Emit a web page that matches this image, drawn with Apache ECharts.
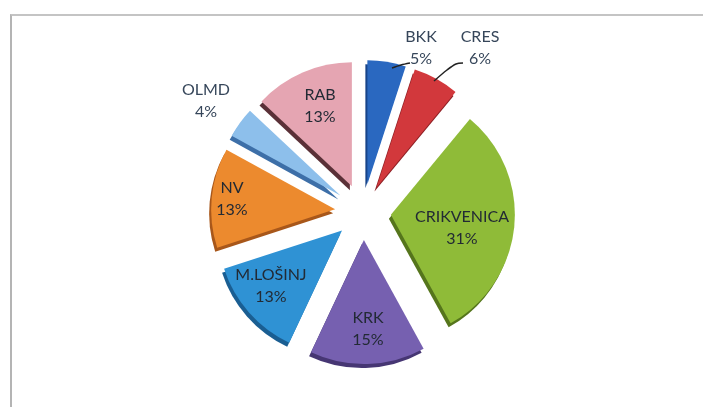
<!DOCTYPE html>
<html>
<head>
<meta charset="utf-8">
<script src="https://cdn.jsdelivr.net/npm/echarts@6/dist/echarts.min.js"></script>
<style>
  html, body { margin: 0; padding: 0; background: #fff; }
  #frame { position: absolute; left: 10px; top: 14px; width: 693px; height: 393px;
           border-left: 2px solid #b4b4b4; border-top: 2px solid #c4c4c4; }
  #chart { position: absolute; left: 0; top: 0; width: 703px; height: 407px; }
</style>
</head>
<body>
<div id="frame"></div>
<div id="chart"></div>
<script>
// slice names and shares (%), clockwise from 12 o'clock
const names = ['BKK', 'CRES', 'CRIKVENICA', 'KRK', 'M.LOŠINJ', 'NV', 'OLMD', 'RAB']
const shares = [5, 6, 31, 15, 13, 13, 4, 13]

const colors = ['#2a68c0', '#d2383c', '#8fbb38', '#7660b0', '#2f92d4', '#ec8a2e', '#8dbfeb', '#e5a5b2']
const edges = ['#17448a', '#8e1f24', '#55751c', '#463673', '#1a5e92', '#a8571a', '#3d6fa8', '#5a3037']
const outside = ['BKK', 'CRES', 'OLMD']

// label anchor spots (centre of the two-line label)
const labelSpots = [[421, 48], [480, 48], [462, 228], [368, 329], [271, 286], [232, 199], [206, 101], [320, 106]]

const chart = echarts.init(document.getElementById('chart'))

const data = names.map((n, i) => ({
    name: n,
    value: shares[i],
    selected: true,
    itemStyle: {
        color: colors[i],
        shadowColor: edges[i],
        shadowBlur: 0,
        shadowOffsetX: -2,
        shadowOffsetY: 4
    }
}))

const leader = pts => ({
    type: 'polyline',
    z: 100,
    shape: { points: pts, smooth: 0.3 },
    style: { stroke: '#222', lineWidth: 1.5, fill: null }
})

// slice labels, text taken from the data arrays
const labels = names.map((n, i) => ({
    type: 'text',
    z: 100,
    x: labelSpots[i][0],
    y: labelSpots[i][1],
    style: {
        text: n + '\n' + shares[i] + '%',
        font: '16px Lato',
        lineHeight: 22,
        fill: outside.includes(n) ? '#36465a' : '#222a34',
        align: 'center',
        verticalAlign: 'middle'
    }
}))

chart.setOption({
    animation: false,
    graphic: [
        leader([[392, 68], [401, 65], [410, 63]]),
        leader([[434, 81], [447, 70], [456, 64], [463, 63]])
    ].concat(labels),
    series: [{
        type: 'pie',
        center: [363, 212],
        radius: 124,
        startAngle: 90,
        clockwise: true,
        selectedMode: 'multiple',
        selectedOffset: 28,
        data: data,
        label: { show: false },
        labelLine: { show: false },
        select: { itemStyle: {} },
        emphasis: { disabled: true }
    }]
})
</script>
</body>
</html>
